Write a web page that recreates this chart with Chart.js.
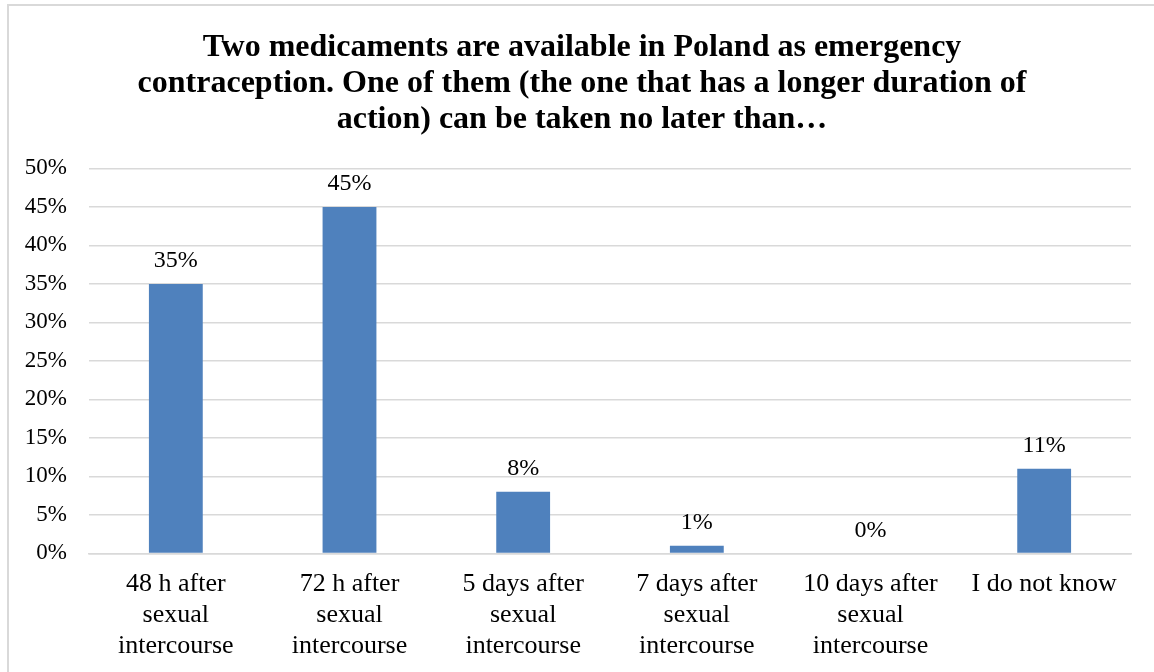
<!DOCTYPE html>
<html>
<head>
<meta charset="utf-8">
<script src="https://cdn.jsdelivr.net/npm/chart.js@4"></script>
<style>
  html, body { margin: 0; padding: 0; background: #fff; overflow: hidden; }
  #wrap { position: relative; width: 1154px; height: 672px; overflow: hidden; }
  #frame { position: absolute; left: 7px; top: 4px; width: 1200px; height: 720px; border: 2px solid #d9d9d9; box-sizing: border-box; }
  canvas { position: absolute; left: 0; top: 0; }
</style>
</head>
<body>
<div id="wrap">
  <div id="frame"></div>
  <canvas id="c" width="1154" height="672"></canvas>
</div>
<script>
const titleLines = [
  "Two medicaments are available in Poland as emergency",
  "contraception. One of them (the one that has a longer duration of",
  "action) can be taken no later than\u2026"
];
const categories = [
  ["48 h after", "sexual", "intercourse"],
  ["72 h after", "sexual", "intercourse"],
  ["5 days after", "sexual", "intercourse"],
  ["7 days after", "sexual", "intercourse"],
  ["10 days after", "sexual", "intercourse"],
  "I do not know"
];
const values = [35, 45, 8, 1, 0, 11];
const yTicks = [0, 5, 10, 15, 20, 25, 30, 35, 40, 45, 50];

const FONT = "'Liberation Serif', 'Times New Roman', serif";

const labelPlugin = {
  id: 'valueLabels',
  afterLayout(chart) {
    if (chart.titleBlock) {
      chart.titleBlock.left += 5.5;
      chart.titleBlock.right += 5.5;
    }
  },
  afterDatasetsDraw(chart) {
    const ctx = chart.ctx;
    const meta = chart.getDatasetMeta(0);
    ctx.save();
    ctx.font = "24px " + FONT;
    ctx.fillStyle = "#000";
    ctx.textAlign = "center";
    ctx.textBaseline = "middle";
    meta.data.forEach((bar, i) => {
      ctx.fillText(values[i] + "%", bar.x, bar.y - 23);
    });
    ctx.restore();
  }
};

new Chart(document.getElementById('c'), {
  type: 'bar',
  data: {
    labels: categories,
    datasets: [{
      data: values,
      backgroundColor: '#4f81bd',
      borderWidth: 0,
      categoryPercentage: 1,
      barPercentage: 0.31
    }]
  },
  options: {
    responsive: false,
    animation: false,
    layout: { padding: { left: 22, right: 23, top: 0, bottom: -5 } },
    plugins: {
      legend: { display: false },
      tooltip: { enabled: false },
      title: {
        display: true,
        text: titleLines,
        color: '#000',
        font: { family: FONT, size: 32, weight: 'bold', lineHeight: 1.14 },
        padding: { top: 29, bottom: 30 }
      }
    },
    scales: {
      x: {
        afterFit(scale) { scale.paddingLeft = 0; scale.paddingRight = 0; },
        grid: { display: false, drawTicks: false },
        border: { display: true, color: '#d9d9d9', width: 1.5 },
        ticks: {
          color: '#000',
          font: { family: FONT, size: 26, lineHeight: 1.2 },
          padding: 15,
          maxRotation: 0,
          autoSkip: false
        }
      },
      y: {
        min: 0,
        max: 50,
        afterFit(scale) { scale.width = 67; },
        afterBuildTicks(scale) { scale.ticks = yTicks.map(v => ({ value: v })); },
        grid: { color: '#d9d9d9', lineWidth: 1.5, drawTicks: false },
        border: { display: false },
        ticks: {
          color: '#000',
          font: { family: FONT, size: 23 },
          padding: 22,
          callback: v => v + '%'
        }
      }
    }
  },
  plugins: [labelPlugin]
});
</script>
</body>
</html>
